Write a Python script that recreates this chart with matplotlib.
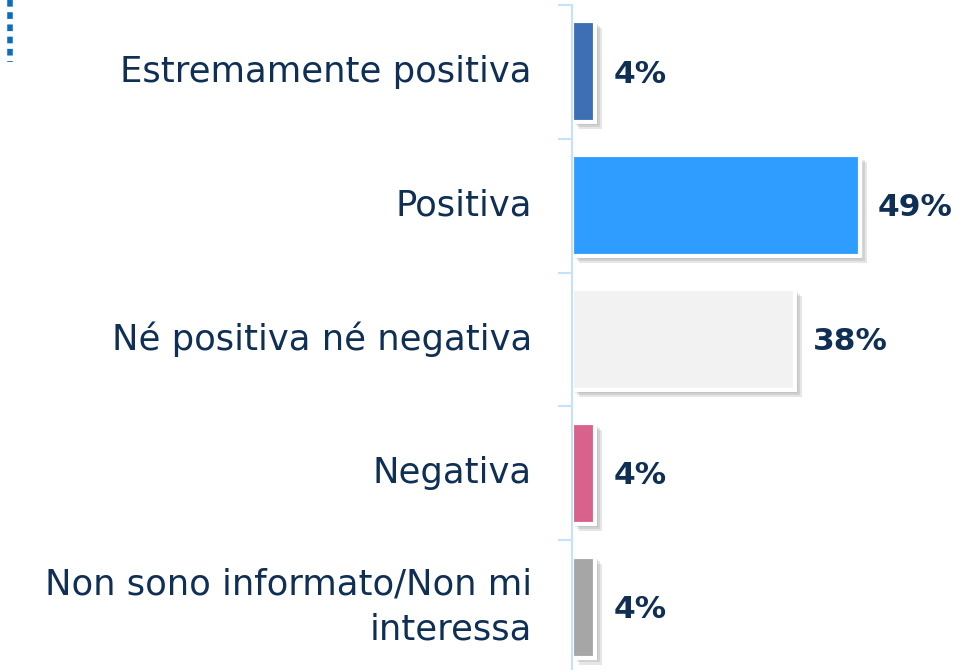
import matplotlib
matplotlib.use("Agg")
import matplotlib.pyplot as plt
import matplotlib.patheffects as pe
import matplotlib.transforms as mtransforms
import numpy as np

categories = ["Estremamente positiva", "Positiva", "Né positiva né negativa",
              "Negativa", "Non sono informato/Non mi\ninteressa"]
values = [4, 49, 38, 4, 4]
colors = ["#3D6FB5", "#2E9DFF", "#F2F2F2", "#D9628C", "#A6A6A6"]
value_labels = ["4%", "49%", "38%", "4%", "4%"]

TEXT = "#0F2F55"
SPINE = "#C5E2FA"

fig = plt.figure(figsize=(9.69, 6.7), dpi=100)
ax = fig.add_axes([0.5903, -0.006, 0.389, 0.9985])

y = np.arange(len(categories))
bars = ax.barh(y, values, height=0.755, color=colors, edgecolor="white",
               linewidth=3, align="center")
# soft drop shadow: a few stacked, slightly shifted shadows
shadow = [pe.SimplePatchShadow(offset=(d, -d), shadow_rgbFace="#666666", alpha=0.16)
          for d in (2, 3.5, 5)]
for b in bars:
    b.set_path_effects(shadow + [pe.Normal()])

ax.set_xlim(0, 64.2)
ax.set_ylim(len(categories) - 0.5, -0.5)

# tick marks on category boundaries
ax.set_yticks(np.arange(-0.5, len(categories), 1.0))
ax.set_yticklabels([])
ax.tick_params(axis="y", length=10, color=SPINE, width=1.5, direction="out")
ax.set_xticks([])
for s in ["top", "right", "bottom"]:
    ax.spines[s].set_visible(False)
ax.spines["left"].set_color(SPINE)
ax.spines["left"].set_linewidth(1.5)

trans = mtransforms.blended_transform_factory(fig.transFigure, ax.transData)
for yi, cat in zip(y, categories):
    ax.text(532 / 969, yi, cat, transform=trans, ha="right", va="center",
            fontsize=25.5, color=TEXT, family="DejaVu Sans", linespacing=1.4)

for yi, v, lab in zip(y, values, value_labels):
    ax.annotate(lab, (v, yi), xytext=(13, -1.5), textcoords="offset points",
                ha="left", va="center", fontsize=22.5, fontweight="bold",
                color=TEXT, family="DejaVu Sans")

# dotted decoration in the top-left corner
fig.add_artist(plt.Line2D([10 / 969, 10 / 969], [1.0, 1 - 62 / 670],
                          transform=fig.transFigure, color="#0A6CC4",
                          linewidth=4, linestyle=(0, (1.2, 1.0))))

fig.savefig("out.png", dpi=100)
